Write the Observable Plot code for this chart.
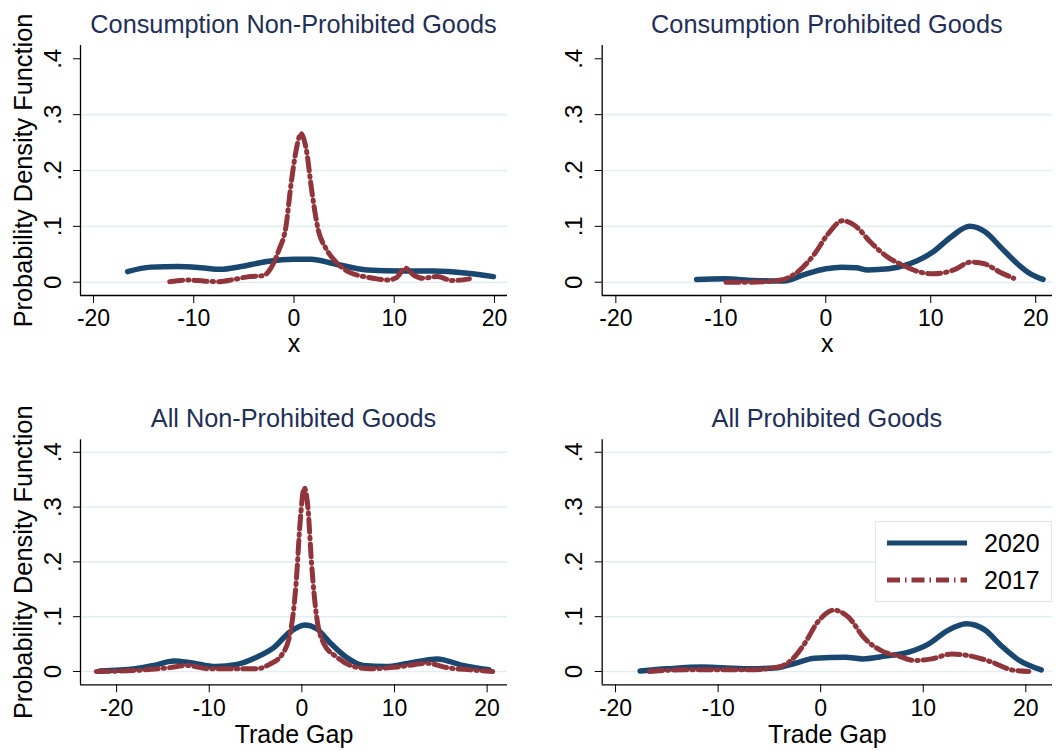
<!DOCTYPE html>
<html>
<head>
<meta charset="utf-8">
<script src="https://cdn.jsdelivr.net/npm/d3@7"></script>
<script src="https://cdn.jsdelivr.net/npm/@observablehq/plot@0.6"></script>
<style>
  body { margin: 0; background: #fff; }
  #chart { position: relative; width: 1063px; height: 751px; overflow: hidden; font-family: "Liberation Sans", Arial, sans-serif; background: #fff; }
  .ptitle { position: absolute; text-align: center; font-size: 25.3px; line-height: 25px; color: #1f2f57; white-space: nowrap; }
  .panel { position: absolute; }
  .panel svg { overflow: visible; display: block; }
</style>
</head>
<body>
<div id="chart"></div>
<script>
// ---------- Data ----------
const seriesNames = ["2020", "2017"];
const xTicks = [-20, -10, 0, 10, 20];
const yTicks = [0, 0.1, 0.2, 0.3, 0.4];

// Consumption Non-Prohibited Goods
const cnp2020_x = [-16.6, -14.3, -11.6, -9.3, -7.3, -5.3, -2.7, 0, 1.7, 4.0, 7.3, 10.7, 14.0, 17.3, 19.9];
const cnp2020_y = [0.019, 0.027, 0.028, 0.026, 0.023, 0.028, 0.037, 0.041, 0.041, 0.033, 0.022, 0.020, 0.020, 0.016, 0.010];
const cnp2017_x = [-12.4, -10.5, -9, -7.5, -6, -4.5, -3, -2.5, -1.5, -0.8, -0.3, 0.2, 0.7, 1.2, 1.8, 2.4, 3.2, 4.2, 5.5, 7.0, 8.3, 9.3, 10.2, 11.1, 12.0, 12.8, 14.3, 15.8, 17.5];
const cnp2017_y = [0.001, 0.004, 0.002, 0.001, 0.005, 0.010, 0.012, 0.020, 0.058, 0.100, 0.175, 0.235, 0.266, 0.240, 0.160, 0.095, 0.060, 0.036, 0.018, 0.010, 0.006, 0.004, 0.008, 0.025, 0.012, 0.007, 0.010, 0.003, 0.006];

// Consumption Prohibited Goods
const cp2020_x = [-12.3, -9.7, -6.9, -4.0, -2.0, 0.0, 1.5, 2.9, 4.0, 6.0, 8.0, 10.2, 12.0, 13.7, 15.2, 16.7, 18.2, 19.5, 20.7];
const cp2020_y = [0.005, 0.006, 0.003, 0.002, 0.014, 0.024, 0.027, 0.026, 0.022, 0.024, 0.033, 0.054, 0.082, 0.100, 0.090, 0.062, 0.034, 0.015, 0.005];
const cp2017_x = [-9.5, -7.2, -4.3, -3.0, -1.1, 0.2, 1.6, 2.8, 4.3, 5.9, 7.4, 9.0, 10.3, 12.2, 13.8, 15.1, 16.6, 17.9];
const cp2017_y = [0.0, 0.0, 0.004, 0.014, 0.050, 0.086, 0.110, 0.101, 0.071, 0.045, 0.030, 0.018, 0.015, 0.022, 0.036, 0.033, 0.018, 0.007];

// All Non-Prohibited Goods
const anp2020_x = [-21.8, -18.0, -16.0, -13.8, -12.0, -9.3, -7.0, -4.9, -3.0, -1.3, 0.3, 1.6, 3.0, 4.8, 6.6, 9.1, 11.2, 14.6, 17.4, 20.2];
const anp2020_y = [0.001, 0.005, 0.011, 0.019, 0.016, 0.009, 0.013, 0.026, 0.044, 0.072, 0.085, 0.078, 0.053, 0.026, 0.011, 0.009, 0.014, 0.023, 0.011, 0.003];
const anp2017_x = [-22.2, -17.9, -14.3, -12.5, -10.0, -7.1, -4.9, -3.5, -2.1, -1.2, -0.6, -0.2, 0.25, 0.65, 1.05, 1.6, 2.4, 3.8, 5.6, 7.4, 10.3, 13.5, 15.7, 18.2, 20.6];
const anp2017_y = [0.0, 0.002, 0.007, 0.011, 0.005, 0.005, 0.005, 0.013, 0.032, 0.075, 0.166, 0.270, 0.335, 0.300, 0.196, 0.099, 0.050, 0.026, 0.009, 0.005, 0.008, 0.015, 0.007, 0.003, 0.0];

// All Prohibited Goods
const ap2020_x = [-17.6, -14.9, -11.6, -9.7, -6.8, -4.2, -2.5, -0.6, 2.4, 4.1, 6.3, 8.5, 10.5, 12.4, 14.2, 16.0, 17.6, 19.3, 21.5];
const ap2020_y = [0.001, 0.005, 0.008, 0.007, 0.005, 0.007, 0.015, 0.024, 0.026, 0.023, 0.028, 0.035, 0.050, 0.075, 0.087, 0.076, 0.047, 0.021, 0.003];
const ap2017_x = [-16.7, -13.3, -10.0, -6.8, -4.2, -2.9, -1.6, -0.3, 1.3, 2.7, 4.3, 5.9, 7.6, 9.2, 10.8, 12.8, 14.4, 16.7, 18.6, 20.3];
const ap2017_y = [0.0, 0.003, 0.003, 0.003, 0.008, 0.020, 0.050, 0.090, 0.112, 0.099, 0.060, 0.038, 0.028, 0.020, 0.023, 0.032, 0.029, 0.017, 0.003, 0.0];

// ---------- Styles ----------
const FONT = "'Liberation Sans', Arial, Helvetica, sans-serif";
const NAVY = "#1a476f";
const MAROON = "#90353b";
const GRID = "#e4edf1";
const DASH = "13,5,1.5,5";

const zip = (xs, ys) => xs.map((x, i) => ({x, y: ys[i]}));
const fmtY = d => d === 0 ? "0" : String(+d.toFixed(1)).replace(/^0\./, ".");
const fmtX = d => String(d);

const panels = [
  {title: "Consumption Non-Prohibited Goods", a: zip(cnp2020_x, cnp2020_y), b: zip(cnp2017_x, cnp2017_y),
   left: 0, top: 40, w: 531, h: 330, ml: 80, mr: 24, mt: 5, mb: 75, titleTop: 12,
   xd: [-21.3, 21.3], yd: [-0.0238, 0.4238], grid: [0, 0.1, 0.2, 0.3], xlabel: "x", xdy: 56.5, ylabel: true},
  {title: "Consumption Prohibited Goods", a: zip(cp2020_x, cp2020_y), b: zip(cp2017_x, cp2017_y),
   left: 531, top: 40, w: 532, h: 330, ml: 70.7, mr: 11, mt: 5, mb: 75, titleTop: 12,
   xd: [-21.3, 21.6], yd: [-0.0238, 0.4238], grid: [0, 0.1, 0.2, 0.3], xlabel: "x", xdy: 56.5, ylabel: false},
  {title: "All Non-Prohibited Goods", a: zip(anp2020_x, anp2020_y), b: zip(anp2017_x, anp2017_y),
   left: 0, top: 434, w: 531, h: 317, ml: 80, mr: 24, mt: 5.3, mb: 66.7, titleTop: 405.5,
   xd: [-23.9, 22.2], yd: [-0.0243, 0.4228], grid: [0, 0.1, 0.2, 0.3, 0.4], xlabel: "Trade Gap", xdy: 57.7, ylabel: true},
  {title: "All Prohibited Goods", a: zip(ap2020_x, ap2020_y), b: zip(ap2017_x, ap2017_y),
   left: 531, top: 434, w: 532, h: 317, ml: 70.7, mr: 11, mt: 5.3, mb: 66.7, titleTop: 405.5,
   xd: [-21.3, 22.6], yd: [-0.0243, 0.4228], grid: [0, 0.1, 0.2, 0.3, 0.4], xlabel: "Trade Gap", xdy: 57.7, ylabel: false}
];

const chart = document.getElementById("chart");

for (const p of panels) {
  const marks = [
    Plot.gridY(p.grid, {stroke: GRID, strokeOpacity: 1, strokeWidth: 1.6}),
    Plot.axisY(yTicks, {tickSize: 7, tickRotate: -90, tickPadding: 13, tickFormat: fmtY, fontSize: 24, label: null, stroke: "#000"}),
    Plot.axisX(xTicks, {tickSize: 8, tickPadding: 6.5, tickFormat: fmtX, fontSize: 23, label: null, stroke: "#000"}),
    Plot.ruleX([p.xd[0]], {stroke: "#000", strokeWidth: 1.3}),
    Plot.ruleY([p.yd[0]], {stroke: "#000", strokeWidth: 1.3}),
    Plot.line(p.a, {x: "x", y: "y", stroke: NAVY, strokeWidth: 5.5, curve: "monotone-x"}),
    Plot.line(p.b, {x: "x", y: "y", stroke: MAROON, strokeWidth: 5, strokeDasharray: DASH, curve: "monotone-x"}),
    Plot.text([p.xlabel], {frameAnchor: "bottom", dy: p.xdy, lineAnchor: "bottom", textAnchor: "middle", fontSize: 25, fill: "#000"})
  ];
  if (p.ylabel) {
    marks.push(Plot.text(["Probability Density Function"], {frameAnchor: "left", dx: -48.3, rotate: -90, lineAnchor: "bottom", textAnchor: "middle", fontSize: 25.3, fill: "#000"}));
  }
  const svg = Plot.plot({
    width: p.w, height: p.h,
    marginLeft: p.ml, marginRight: p.mr, marginTop: p.mt, marginBottom: p.mb,
    x: {domain: p.xd},
    y: {domain: p.yd},
    style: {fontFamily: FONT, fontSize: "24px", color: "#000", background: "transparent", overflow: "visible"},
    marks
  });
  const div = document.createElement("div");
  div.className = "panel";
  div.style.left = p.left + "px";
  div.style.top = p.top + "px";
  div.style.width = p.w + "px";
  div.style.height = p.h + "px";
  div.appendChild(svg);
  chart.appendChild(div);

  const t = document.createElement("div");
  t.className = "ptitle";
  const plotL = p.left + p.ml, plotR = p.left + p.w - p.mr;
  t.style.left = plotL + "px";
  t.style.width = (plotR - plotL) + "px";
  t.style.top = p.titleTop + "px";
  t.textContent = p.title;
  chart.appendChild(t);
}

// ---------- Legend (inside the bottom-right panel) ----------
const lg = document.createElement("div");
lg.style.position = "absolute";
lg.style.left = "875px";
lg.style.top = "521px";
lg.style.width = "177px";
lg.style.height = "81px";
lg.style.boxSizing = "border-box";
lg.style.border = "1px solid #dde7ec";
lg.style.background = "#fff";
const ns = "http://www.w3.org/2000/svg";
const lsvg = document.createElementNS(ns, "svg");
lsvg.setAttribute("width", "175");
lsvg.setAttribute("height", "79");
lsvg.style.display = "block";
const legendItems = [
  {name: seriesNames[0], color: NAVY, dash: null, y: 21},
  {name: seriesNames[1], color: MAROON, dash: DASH, y: 58}
];
for (const it of legendItems) {
  const ln = document.createElementNS(ns, "line");
  ln.setAttribute("x1", "11"); ln.setAttribute("x2", "91");
  ln.setAttribute("y1", it.y); ln.setAttribute("y2", it.y);
  ln.setAttribute("stroke", it.color);
  ln.setAttribute("stroke-width", "5");
  if (it.dash) ln.setAttribute("stroke-dasharray", it.dash);
  lsvg.appendChild(ln);
  const tx = document.createElementNS(ns, "text");
  tx.setAttribute("x", "108");
  tx.setAttribute("y", it.y + 9);
  tx.setAttribute("font-family", FONT);
  tx.setAttribute("font-size", "25");
  tx.setAttribute("fill", "#000");
  tx.textContent = it.name;
  lsvg.appendChild(tx);
}
lg.appendChild(lsvg);
chart.appendChild(lg);
</script>
</body>
</html>
